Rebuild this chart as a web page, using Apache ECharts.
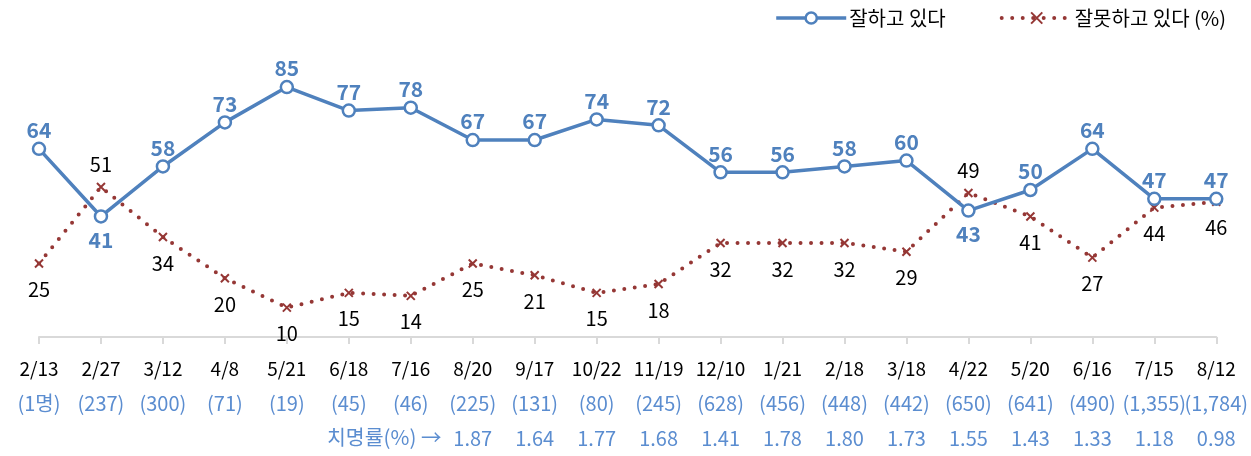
<!DOCTYPE html>
<html>
<head>
<meta charset="utf-8">
<script src="https://cdn.jsdelivr.net/npm/echarts@6/dist/echarts.min.js"></script>
<style>
    html, body {margin: 0; padding: 0; background: #fff;}
    #main {width: 1251px; height: 456px;}
</style>
</head>
<body>
<div id="main"></div>
<script>
// 조사 날짜 / 확진자 수 / 치명률
var dates = ['2/13', '2/27', '3/12', '4/8', '5/21', '6/18', '7/16', '8/20', '9/17', '10/22',
    '11/19', '12/10', '1/21', '2/18', '3/18', '4/22', '5/20', '6/16', '7/15', '8/12'];
var counts = ['(1명)', '(237)', '(300)', '(71)', '(19)', '(45)', '(46)', '(225)', '(131)', '(80)',
    '(245)', '(628)', '(456)', '(448)', '(442)', '(650)', '(641)', '(490)', '(1,355)', '(1,784)'];
var fatality = ['', '', '', '', '', '', '', '1.87', '1.64', '1.77',
    '1.68', '1.41', '1.78', '1.80', '1.73', '1.55', '1.43', '1.33', '1.18', '0.98'];

var good = [64, 41, 58, 73, 85, 77, 78, 67, 67, 74, 72, 56, 56, 58, 60, 43, 50, 64, 47, 47];
var bad = [25, 51, 34, 20, 10, 15, 14, 25, 21, 15, 18, 32, 32, 32, 29, 49, 41, 27, 44, 46];

// 라벨 위치를 뒤집을 지점 (2/27, 4/22)
var flip = [1, 15];

var blue = '#4f81bd';
var red = '#953735';
var font = '"Noto Sans CJK KR", "Noto Sans", sans-serif';

var chart = echarts.init(document.getElementById('main'));

var goodData = good.map(function (v, i) {
    if (flip.indexOf(i) >= 0) {
        return {value: v, label: {position: 'bottom', distance: 6}};
    }
    return v;
});
var badData = bad.map(function (v, i) {
    if (flip.indexOf(i) >= 0) {
        return {value: v, label: {position: 'top', distance: 8}};
    }
    return v;
});

var xPath = 'path://M0,0L10,10M10,0L0,10';

var option = {
    animation: false,
    textStyle: {fontFamily: font},
    legend: {
        right: 20,
        top: 3,
        itemWidth: 70,
        itemHeight: 14,
        itemGap: 54,
        textStyle: {fontSize: 20, color: '#000', fontFamily: font, padding: [0, 0, 0, -2]},
        data: [
            {
                name: '잘하고 있다',
                lineStyle: {color: blue, width: 3.5},
                itemStyle: {color: '#fff', borderColor: blue, borderWidth: 2.5}
            },
            {
                name: '잘못하고 있다 (%)',
                lineStyle: {color: red, width: 4, type: [0, 10.5], cap: 'round'},
                itemStyle: {color: red, borderColor: red, borderWidth: 2}
            }
        ]
    },
    grid: {
        left: 39,
        right: 30,
        top: 43,
        bottom: 119
    },
    xAxis: {
        type: 'category',
        boundaryGap: false,
        data: dates,
        axisLine: {lineStyle: {color: '#d9d9d9', width: 2}},
        axisTick: {show: true, length: 7, lineStyle: {color: '#d9d9d9', width: 2}},
        axisLabel: {
            interval: 0,
            margin: 14,
            formatter: function (val, i) {
                return '{d|' + val + '}\n{c|' + counts[i] + '}\n{f|' + (fatality[i] || ' ') + '}';
            },
            rich: {
                d: {fontSize: 19, color: '#000', lineHeight: 35, fontFamily: font},
                c: {fontSize: 20, color: '#5b8dd0', lineHeight: 35, fontFamily: font},
                f: {fontSize: 20, color: '#5b8dd0', lineHeight: 35, fontFamily: font}
            }
        }
    },
    yAxis: {
        type: 'value',
        min: 0,
        max: 100,
        show: false,
        splitLine: {show: false}
    },
    graphic: [{
        type: 'text',
        left: 327,
        top: 427,
        style: {
            text: '치명률(%) →',
            fill: '#5b8dd0',
            fontSize: 20.5,
            fontFamily: font
        }
    }],
    series: [
        {
            name: '잘하고 있다',
            type: 'line',
            data: goodData,
            symbol: 'circle',
            symbolSize: 12,
            showAllSymbol: true,
            lineStyle: {color: blue, width: 3.5},
            itemStyle: {color: '#fff', borderColor: blue, borderWidth: 2.5},
            label: {
                show: true,
                position: 'top',
                distance: 1,
                color: blue,
                fontSize: 21,
                fontWeight: 'bold',
                fontFamily: font
            },
            z: 3
        },
        {
            name: '잘못하고 있다 (%)',
            type: 'line',
            data: badData,
            symbol: xPath,
            symbolSize: 8,
            showAllSymbol: true,
            lineStyle: {color: red, width: 4, type: [0, 10.5], cap: 'round'},
            itemStyle: {color: red, borderColor: red, borderWidth: 2},
            label: {
                show: true,
                position: 'bottom',
                distance: 11,
                color: '#000',
                fontSize: 20,
                fontFamily: font
            },
            z: 2
        }
    ]
};

chart.setOption(option);
</script>
</body>
</html>
